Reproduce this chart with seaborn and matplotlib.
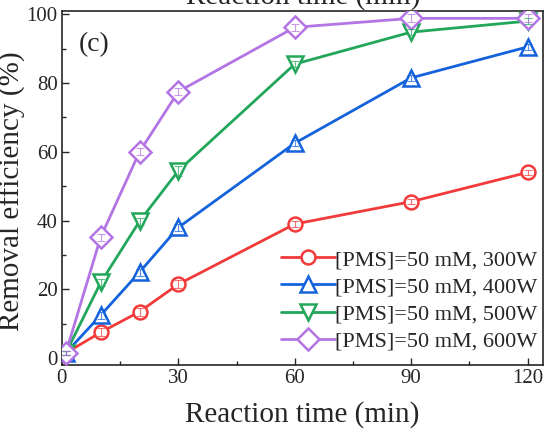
import numpy as np
import pandas as pd
import seaborn as sns
import matplotlib
matplotlib.use("Agg")
import matplotlib.pyplot as plt
from matplotlib.ticker import MultipleLocator
from matplotlib.lines import Line2D

time = [1, 10, 20, 30, 60, 90, 120]
labels = ["[PMS]=50 mM, 300W", "[PMS]=50 mM, 400W",
          "[PMS]=50 mM, 500W", "[PMS]=50 mM, 600W"]
r300 = [1.5, 7.5, 13.5, 21.5, 39.0, 45.5, 54.0]
r400 = [1.5, 12.5, 25.0, 38.0, 62.5, 81.5, 90.5]
r500 = [1.5, 22.0, 39.8, 54.5, 85.5, 94.8, 98.0]
r600 = [1.5, 35.2, 60.0, 77.5, 96.2, 98.8, 98.8]
e300 = [0.5, 1.2, 1.2, 1.2, 0.8, 0.8, 0.8]
e400 = [0.5, 1.0, 1.0, 1.0, 0.8, 0.8, 0.8]
e500 = [0.5, 1.0, 1.0, 1.5, 0.8, 0.8, 0.8]
e600 = [0.5, 1.0, 1.0, 1.0, 1.0, 1.2, 1.2]

colors = ["#F23A3A", "#1463DC", "#21A65A", "#B374E4"]
markers = ["o", "^", "v", "D"]
msizes = [10, 12, 12, 11]

sns.set_style("ticks")
plt.rcParams["font.family"] = ["Liberation Serif", "DejaVu Serif"]

fig = plt.figure(figsize=(5.48, 4.32), dpi=100)
ax = fig.add_axes([0.113, 0.155, 0.878, 0.82])

series = [r300, r400, r500, r600]
errs = [e300, e400, e500, e600]
df = pd.DataFrame({
    "time": time * 4,
    "eff": sum(series, []),
    "cond": sum([[l] * len(time) for l in labels], []),
})
sns.lineplot(data=df, x="time", y="eff", hue="cond", palette=colors,
             hue_order=labels, lw=2, legend=False, ax=ax, zorder=2)

for i, (ys, es) in enumerate(zip(series, errs)):
    ax.errorbar(time, ys, yerr=es, fmt="none", ecolor=colors[i], elinewidth=0.8,
                capsize=3, capthick=0.8, zorder=4, alpha=0.7)
    ax.plot(time, ys, ls="none", marker=markers[i], ms=msizes[i],
            mfc="white", mec=colors[i], mew=1.8, zorder=3)

ax.set_xlim(0, 124)
ax.set_ylim(-2, 101)
ax.xaxis.set_major_locator(MultipleLocator(30))
ax.xaxis.set_minor_locator(MultipleLocator(15))
ax.yaxis.set_major_locator(MultipleLocator(20))
ax.yaxis.set_minor_locator(MultipleLocator(10))
ax.tick_params(which="both", direction="in", top=False, right=False,
               labelsize=15, width=1, pad=3)
ax.tick_params(which="major", length=5)
ax.tick_params(which="minor", length=3)
for s in ax.spines.values():
    s.set_linewidth(1.2)
    s.set_visible(True)

ax.set_xlabel("Reaction time (min)", fontsize=21, labelpad=9)
ax.set_ylabel("Removal efficiency (%)", fontsize=21)
ax.yaxis.set_label_coords(-0.074, 0.49)
fig.text(0.553, 1 - 4 / 432, "Reaction time (min)", fontsize=21,
         ha="center", va="baseline")
ax.text(0.035, 0.905, "(c)", transform=ax.transAxes, fontsize=20, va="center")

handles = [Line2D([], [], color=c, lw=2, marker=m, ms=ms, mfc="white", mec=c, mew=1.8)
           for c, m, ms in zip(colors, markers, msizes)]
ax.legend(handles, labels, loc="lower right", frameon=False, fontsize=16,
          handlelength=2.4, handletextpad=0.0, labelspacing=0.3,
          borderaxespad=0.2, bbox_to_anchor=(1.015, 0.0))

fig.savefig("out.png", dpi=100)
